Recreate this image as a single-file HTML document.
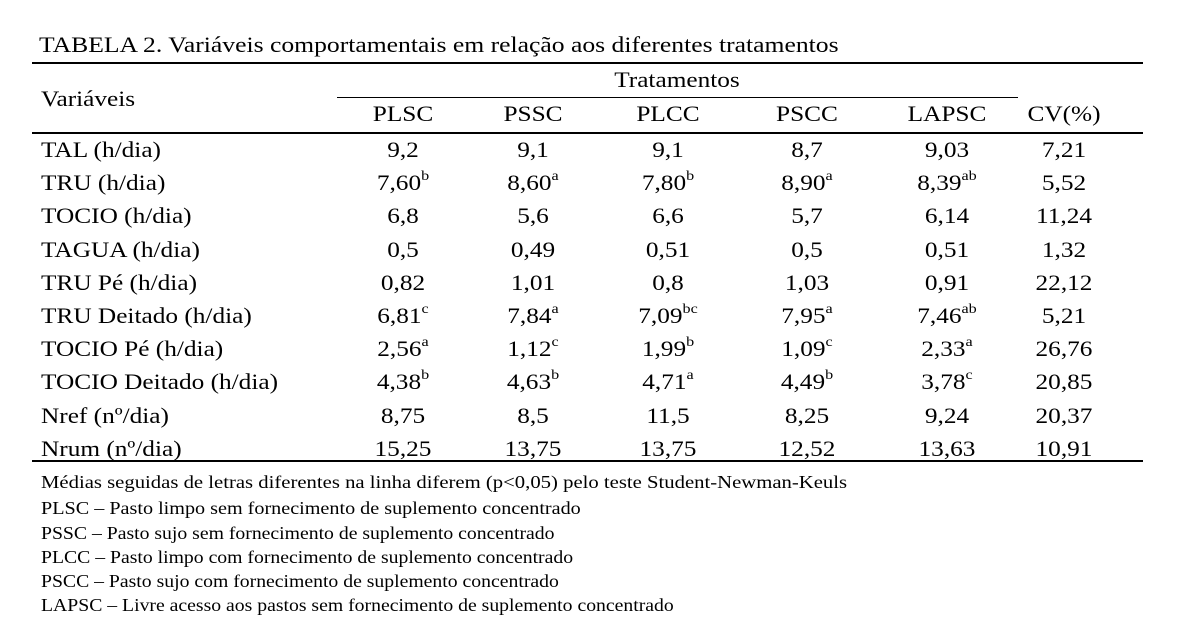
<!DOCTYPE html>
<html><head><meta charset="utf-8"><style>
body{margin:0;width:1182px;height:633px;background:#fff;position:relative;overflow:hidden;font-family:"Liberation Serif",serif;color:#000}
.a{position:absolute;white-space:nowrap;line-height:30px;transform:scaleX(1.15);transform-origin:left center}
.r{font-size:22px}
.c{text-align:center;width:140px;margin-left:-70px;transform-origin:center center}
.f{font-size:18px;left:41px}
.g{transform:scaleX(1.095)}
.h{position:absolute;height:2px;background:#000}
sup{font-size:14px;line-height:0;position:relative;top:-2px}
</style></head><body>
<div class="a" style="left:39px;top:30px;font-size:22px;transform:scaleX(1.165)">TABELA 2. Variáveis comportamentais em relação aos diferentes tratamentos</div>
<div class="h" style="left:32px;width:1111px;top:62px"></div>
<div class="h" style="left:337px;width:681px;top:97px;height:1px"></div>
<div class="h" style="left:32px;width:1111px;top:132px"></div>
<div class="h" style="left:32px;width:1111px;top:460px"></div>
<div class="a r" style="left:41px;top:84px">Variáveis</div>
<div class="a r c" style="left:677px;top:65px">Tratamentos</div>
<div class="a r c" style="left:403px;top:99px">PLSC</div>
<div class="a r c" style="left:533px;top:99px">PSSC</div>
<div class="a r c" style="left:668px;top:99px">PLCC</div>
<div class="a r c" style="left:807px;top:99px">PSCC</div>
<div class="a r c" style="left:947px;top:99px">LAPSC</div>
<div class="a r c" style="left:1064px;top:99px">CV(%)</div>
<div id="rows"></div>
<script>
var d=[["TAL (h/dia)","9,2","9,1","9,1","8,7","9,03","7,21"],
["TRU (h/dia)","7,60<sup>b</sup>","8,60<sup>a</sup>","7,80<sup>b</sup>","8,90<sup>a</sup>","8,39<sup>ab</sup>","5,52"],
["TOCIO (h/dia)","6,8","5,6","6,6","5,7","6,14","11,24"],
["TAGUA (h/dia)","0,5","0,49","0,51","0,5","0,51","1,32"],
["TRU Pé (h/dia)","0,82","1,01","0,8","1,03","0,91","22,12"],
["TRU Deitado (h/dia)","6,81<sup>c</sup>","7,84<sup>a</sup>","7,09<sup>bc</sup>","7,95<sup>a</sup>","7,46<sup>ab</sup>","5,21"],
["TOCIO Pé (h/dia)","2,56<sup>a</sup>","1,12<sup>c</sup>","1,99<sup>b</sup>","1,09<sup>c</sup>","2,33<sup>a</sup>","26,76"],
["TOCIO Deitado (h/dia)","4,38<sup>b</sup>","4,63<sup>b</sup>","4,71<sup>a</sup>","4,49<sup>b</sup>","3,78<sup>c</sup>","20,85"],
["Nref (nº/dia)","8,75","8,5","11,5","8,25","9,24","20,37"],
["Nrum (nº/dia)","15,25","13,75","13,75","12,52","13,63","10,91"]];
var xs=[403,533,668,807,947,1064],h="";
d.forEach(function(r,i){var t=150+i*33.2-15;
h+='<div class="a r" style="left:41px;top:'+t+'px">'+r[0]+'</div>';
for(var j=1;j<7;j++)h+='<div class="a r c" style="left:'+xs[j-1]+'px;top:'+t+'px">'+r[j]+'</div>';});
document.getElementById("rows").innerHTML=h;
</script>
<div class="a f" style="top:467px">Médias seguidas de letras diferentes na linha diferem (p&lt;0,05) pelo teste Student-Newman-Keuls</div>
<div class="a f" style="top:493px;transform:scaleX(1.12)">PLSC – Pasto limpo sem fornecimento de suplemento concentrado</div>
<div class="a f g" style="top:518px">PSSC – Pasto sujo sem fornecimento de suplemento concentrado</div>
<div class="a f g" style="top:542px">PLCC – Pasto limpo com fornecimento de suplemento concentrado</div>
<div class="a f g" style="top:566px">PSCC – Pasto sujo com fornecimento de suplemento concentrado</div>
<div class="a f g" style="top:590px">LAPSC – Livre acesso aos pastos sem fornecimento de suplemento concentrado</div>
</body></html>
